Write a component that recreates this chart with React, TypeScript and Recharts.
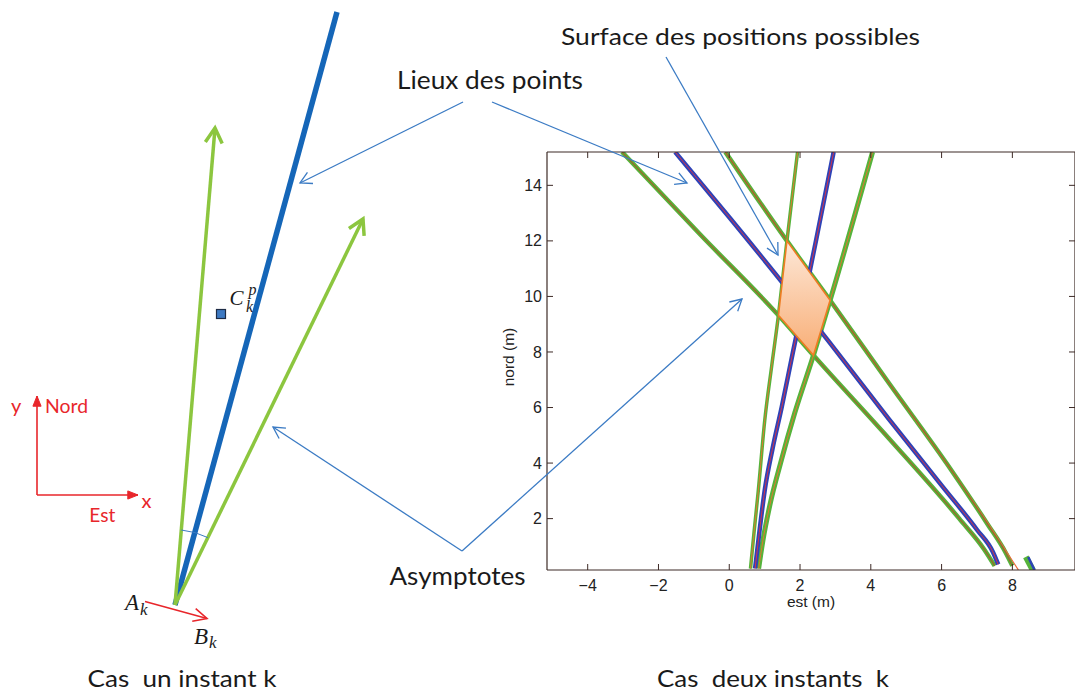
import { ComposedChart, Line, Scatter, XAxis, YAxis } from "recharts";

type Pt = { x: number; y: number };

// ---- right plot (est / nord, metres)
const estTicks = [-4, -2, 0, 2, 4, 6, 8];
const nordTicks = [2, 4, 6, 8, 10, 12, 14];

// locus of points, first instant (descending branch)
const blue1: Pt[] = [
  { x: -1.53, y: 15.2 }, { x: 0, y: 12.85 }, { x: 1.5, y: 10.5 }, { x: 2.8, y: 8.4 },
  { x: 4.5, y: 5.6 }, { x: 6.0, y: 3.2 }, { x: 7.0, y: 1.6 }, { x: 7.45, y: 0.8 }, { x: 7.6, y: 0.35 },
];
// locus of points, second instant (steep branch)
const blue2: Pt[] = [
  { x: 0.73, y: 0.2 }, { x: 0.85, y: 1.5 }, { x: 1.0, y: 3 }, { x: 1.22, y: 4.5 }, { x: 1.48, y: 6 },
  { x: 1.8, y: 8 }, { x: 2.13, y: 10 }, { x: 2.45, y: 12 }, { x: 2.95, y: 15.2 },
];
// asymptote bounds
const greenA: Pt[] = [
  { x: -3.03, y: 15.2 }, { x: -0.8, y: 12.2 }, { x: 1.39, y: 9.32 }, { x: 2.38, y: 7.88 },
  { x: 4.5, y: 4.9 }, { x: 6.5, y: 2.0 }, { x: 7.2, y: 0.9 }, { x: 7.5, y: 0.3 },
];
const greenB: Pt[] = [
  { x: -0.11, y: 15.2 }, { x: 1.63, y: 12.0 }, { x: 2.85, y: 9.86 }, { x: 4.5, y: 6.9 },
  { x: 6.3, y: 3.7 }, { x: 7.3, y: 1.8 }, { x: 7.8, y: 0.8 }, { x: 8.0, y: 0.3 },
];
const redB: Pt[] = [
  { x: -0.11, y: 15.2 }, { x: 1.63, y: 12.0 }, { x: 2.85, y: 9.86 }, { x: 4.5, y: 6.9 },
  { x: 6.3, y: 3.7 }, { x: 7.3, y: 1.85 }, { x: 8.17, y: 0.15 },
];
const greenC: Pt[] = [
  { x: 0.6, y: 0.2 }, { x: 0.7, y: 1.5 }, { x: 0.82, y: 3 }, { x: 1.0, y: 5.5 }, { x: 1.2, y: 7.5 },
  { x: 1.39, y: 9.32 }, { x: 1.63, y: 12.0 }, { x: 1.93, y: 15.2 },
];
const greenD: Pt[] = [
  { x: 0.83, y: 0.2 }, { x: 0.95, y: 1.2 }, { x: 1.15, y: 2.5 }, { x: 1.45, y: 4 }, { x: 1.85, y: 5.8 },
  { x: 2.38, y: 7.88 }, { x: 2.85, y: 9.86 }, { x: 4.05, y: 15.2 },
];
const stubGreen: Pt[] = [{ x: 8.38, y: 0.62 }, { x: 8.58, y: 0.14 }];
const stubBlue: Pt[] = [{ x: 8.45, y: 0.62 }, { x: 8.63, y: 0.14 }];
const diamond: Pt[] = [
  { x: 1.63, y: 12.0 }, { x: 2.85, y: 9.86 }, { x: 2.38, y: 7.88 }, { x: 1.39, y: 9.32 },
];

// ---- left sketch + callouts (page pixels, y down)
const blueLocus: Pt[] = [{ x: 175, y: 605 }, { x: 337, y: 12 }];
const greenLeft: Pt[] = [{ x: 175, y: 605 }, { x: 215, y: 128 }];
const greenRight: Pt[] = [{ x: 175, y: 605 }, { x: 363, y: 219 }];
const angleArc: Pt[] = [{ x: 181.3, y: 530 }, { x: 207.8, y: 537.6 }, { x: 175, y: 605 }];
const abArrow: Pt[] = [{ x: 145, y: 601.5 }, { x: 207, y: 618.5 }];
const nordAxis: Pt[] = [{ x: 37, y: 495 }, { x: 37, y: 396 }];
const estAxis: Pt[] = [{ x: 37, y: 495 }, { x: 138, y: 495 }];
const pointC: Pt[] = [{ x: 221, y: 314 }];
const callouts: Pt[][] = [
  [{ x: 463, y: 102 }, { x: 300, y: 183 }],
  [{ x: 492, y: 102 }, { x: 687, y: 183 }],
  [{ x: 666, y: 57 }, { x: 778, y: 255 }],
  [{ x: 462, y: 551 }, { x: 273, y: 427 }],
  [{ x: 462, y: 551 }, { x: 742, y: 299 }],
];

const FRAME = "#3d2a26";
const SANS = "'Liberation Sans', Arial, Helvetica, sans-serif";
const CAL = "Lato, 'Open Sans', sans-serif";
const MATH = "'Liberation Serif', 'DejaVu Serif', serif";
const RED = "#e8262b";
const CALLOUT = "#3b7bc4";

const fmt = (v: number) => (v < 0 ? "\u2212" + Math.abs(v) : String(v));

function BottomTick(p: any) {
  return (
    <g>
      <line x1={p.x} x2={p.x} y1={p.y} y2={p.y - 6} stroke={FRAME} />
      <text x={p.x} y={p.y + 21} textAnchor="middle" fontSize={16} fontFamily={SANS} fill="#222">
        {fmt(p.payload.value)}
      </text>
    </g>
  );
}
function TopTick(p: any) {
  return <line x1={p.x} x2={p.x} y1={p.y} y2={p.y + 6} stroke={FRAME} />;
}
function LeftTick(p: any) {
  return (
    <g>
      <line x1={p.x} x2={p.x + 6} y1={p.y} y2={p.y} stroke={FRAME} />
      <text x={p.x - 5} y={p.y + 5.6} textAnchor="end" fontSize={16} fontFamily={SANS} fill="#222">
        {fmt(p.payload.value)}
      </text>
    </g>
  );
}
function RightTick(p: any) {
  return <line x1={p.x} x2={p.x - 6} y1={p.y} y2={p.y} stroke={FRAME} />;
}

function headPath(tip: Pt, from: Pt, len: number, ang: number, closed: boolean) {
  const a = Math.atan2(from.y - tip.y, from.x - tip.x);
  const p1 = { x: tip.x + len * Math.cos(a + ang), y: tip.y + len * Math.sin(a + ang) };
  const p2 = { x: tip.x + len * Math.cos(a - ang), y: tip.y + len * Math.sin(a - ang) };
  return `M${p1.x},${p1.y} L${tip.x},${tip.y} L${p2.x},${p2.y}${closed ? " Z" : ""}`;
}

function arrowLine(stroke: string, width: number, head: "none" | "open" | "filled", len = 12, ang = 0.5) {
  return (lp: any) => {
    const pts: Pt[] = lp.points;
    const d = pts.map((q, i) => `${i ? "L" : "M"}${q.x},${q.y}`).join(" ");
    const tip = pts[pts.length - 1];
    const prev = pts[pts.length - 2];
    return (
      <g>
        <path d={d} stroke={stroke} strokeWidth={width} fill="none" />
        {head !== "none" && (
          <path
            d={headPath(tip, prev, len, ang, head === "filled")}
            stroke={stroke}
            strokeWidth={head === "filled" ? 1 : width}
            fill={head === "filled" ? stroke : "none"}
            strokeLinejoin="miter"
          />
        )}
      </g>
    );
  };
}

const noDot = () => <g />;

function seg(key: string, data: Pt[], render: (lp: any) => any) {
  return (
    <Scatter
      key={key}
      data={data}
      dataKey="y"
      line={render}
      lineType="joint"
      shape={noDot}
      isAnimationActive={false}
    />
  );
}

function curve(key: string, data: Pt[], stroke: string, width: number) {
  return (
    <Line
      key={key}
      data={data}
      dataKey="y"
      type="monotone"
      stroke={stroke}
      strokeWidth={width}
      dot={false}
      activeDot={false}
      isAnimationActive={false}
      legendType="none"
    />
  );
}

function renderDiamond(lp: any) {
  const pts: Pt[] = lp.points;
  return (
    <g>
      <defs>
        <linearGradient id="surf" x1="0" y1="0" x2="0" y2="1">
          <stop offset="0%" stopColor="#fde8d8" />
          <stop offset="100%" stopColor="#f8ae76" />
        </linearGradient>
      </defs>
      <polygon
        points={pts.map((q) => `${q.x},${q.y}`).join(" ")}
        fill="url(#surf)"
        stroke="#ee7d23"
        strokeWidth={1.6}
      />
    </g>
  );
}

function renderArc(lp: any) {
  const [s, e, c] = lp.points as Pt[];
  const r = Math.hypot(s.x - c.x, s.y - c.y);
  return <path d={`M${s.x},${s.y} A${r},${r} 0 0 1 ${e.x},${e.y}`} stroke={CALLOUT} strokeWidth={1} fill="none" />;
}

function EstNordChart() {
  return (
    <div style={{ position: "absolute", left: 480, top: 100 }}>
      <ComposedChart width={596} height={520} margin={{ top: 51, right: 0, bottom: 0, left: 0 }}>
        <XAxis
          dataKey="x"
          type="number"
          domain={[-5.15, 9.77]}
          allowDataOverflow
          ticks={estTicks}
          height={50}
          tickSize={0}
          tickMargin={0}
          tickLine={false}
          tick={(p: any) => <BottomTick {...p} />}
          axisLine={{ stroke: FRAME, strokeWidth: 1.2 }}
        />
        <XAxis
          xAxisId="t"
          orientation="top"
          dataKey="x"
          type="number"
          domain={[-5.15, 9.77]}
          allowDataOverflow
          ticks={estTicks}
          height={1}
          tickSize={0}
          tickMargin={0}
          tickLine={false}
          tick={(p: any) => <TopTick {...p} />}
          axisLine={{ stroke: FRAME, strokeWidth: 1.2 }}
        />
        <YAxis
          dataKey="y"
          type="number"
          domain={[0.15, 15.2]}
          allowDataOverflow
          ticks={nordTicks}
          width={67}
          tickSize={0}
          tickMargin={0}
          tickLine={false}
          tick={(p: any) => <LeftTick {...p} />}
          axisLine={{ stroke: FRAME, strokeWidth: 1.2 }}
        />
        <YAxis
          yAxisId="r"
          orientation="right"
          dataKey="y"
          type="number"
          domain={[0.15, 15.2]}
          allowDataOverflow
          ticks={nordTicks}
          width={1}
          tickSize={0}
          tickMargin={0}
          tickLine={false}
          tick={(p: any) => <RightTick {...p} />}
          axisLine={{ stroke: FRAME, strokeWidth: 1.2 }}
        />
        {curve("gA", greenA, "#55b33b", 4.5)}
        {curve("gAo", greenA, "#9a6a2c", 1.3)}
        {curve("gB", greenB, "#55b33b", 4.5)}
        {curve("rB", redB, "#ee6a3a", 1.2)}
        {curve("gBo", greenB, "#9a6a2c", 1.3)}
        {curve("gC", greenC, "#55b33b", 3.5)}
        {curve("gCo", greenC, "#e0782e", 1)}
        {curve("gD", greenD, "#55b33b", 5)}
        {curve("gDo", greenD, "#e0782e", 1)}
        {curve("b1", blue1, "#2d43b8", 4.5)}
        {curve("b1o", blue1, "#d3334a", 1)}
        {curve("b2", blue2, "#2d43b8", 4.5)}
        {curve("b2o", blue2, "#d3334a", 1)}
        {curve("sg", stubGreen, "#55b33b", 6)}
        {curve("sb", stubBlue, "#2d43b8", 2.5)}
        {seg("surf", diamond, renderDiamond)}
      </ComposedChart>
    </div>
  );
}

function SketchChart() {
  return (
    <div style={{ position: "absolute", left: 0, top: 0 }}>
      <ComposedChart width={1075} height={693} margin={{ top: 0, right: 0, bottom: 0, left: 0 }}>
        <XAxis hide dataKey="x" type="number" domain={[0, 1075]} />
        <YAxis hide dataKey="y" type="number" domain={[0, 693]} reversed />
        {seg("blue", blueLocus, arrowLine("#1566b8", 5.5, "none"))}
        {seg("gl", greenLeft, arrowLine("#8cc63f", 3.5, "open", 17, 0.52))}
        {seg("gr", greenRight, arrowLine("#8cc63f", 3.5, "open", 17, 0.52))}
        {seg("arc", angleArc, renderArc)}
        {seg("ab", abArrow, arrowLine(RED, 1.6, "open", 15, 0.45))}
        {seg("nord", nordAxis, arrowLine(RED, 1.6, "filled", 11, 0.38))}
        {seg("est", estAxis, arrowLine(RED, 1.6, "filled", 11, 0.38))}
        <Scatter
          data={pointC}
          dataKey="y"
          isAnimationActive={false}
          shape={(p: any) => (
            <rect x={p.cx - 4.5} y={p.cy - 4.5} width={9} height={9} fill="#3d79c2" stroke="#1d2b45" strokeWidth={1.2} />
          )}
        />
        {callouts.map((c, i) => seg("c" + i, c, arrowLine(CALLOUT, 1.3, "open", 13, 0.5)))}
      </ComposedChart>
    </div>
  );
}

function Labels() {
  const pre = { whiteSpace: "pre" as const };
  return (
    <svg width={1075} height={693} style={{ position: "absolute", left: 0, top: 0 }}>
      <g fontFamily={CAL} fill="#1a1a1a">
        <text x={397} y={89} fontSize={25} textLength={186} lengthAdjust="spacingAndGlyphs">Lieux des points</text>
        <text x={561} y={44.5} fontSize={24} textLength={359} lengthAdjust="spacingAndGlyphs">Surface des positions possibles</text>
        <text x={389.5} y={584.5} fontSize={25} textLength={136} lengthAdjust="spacingAndGlyphs">Asymptotes</text>
        <text x={87.5} y={686.5} fontSize={23} textLength={189} lengthAdjust="spacingAndGlyphs" style={pre}>Cas  un instant k</text>
        <text x={657} y={686.5} fontSize={23} textLength={232} lengthAdjust="spacingAndGlyphs" style={pre}>Cas  deux instants  k</text>
      </g>
      <g fontFamily={CAL} fill={RED}>
        <text x={11} y={412.5} fontSize={20}>y</text>
        <text x={45} y={412.7} fontSize={19} textLength={43} lengthAdjust="spacingAndGlyphs">Nord</text>
        <text x={141.5} y={507.5} fontSize={20}>x</text>
        <text x={89.3} y={521.7} fontSize={19} textLength={26} lengthAdjust="spacingAndGlyphs">Est</text>
      </g>
      <g fontFamily={MATH} fontStyle="italic" fill="#1a1a1a">
        <text x={125} y={610} fontSize={23}>A</text>
        <text x={140} y={614.5} fontSize={17}>k</text>
        <text x={194} y={643.5} fontSize={23}>B</text>
        <text x={209} y={648} fontSize={17}>k</text>
        <text x={229.5} y={305} fontSize={21}>C</text>
        <text x={248.5} y={295} fontSize={16}>p</text>
        <text x={246} y={312} fontSize={16}>k</text>
      </g>
      <g fontFamily={SANS} fill="#222" fontSize={15.5}>
        <text x={811} y={607} textAnchor="middle">est (m)</text>
        <text x={514} y={357} textAnchor="middle" transform="rotate(-90 514 357)">nord (m)</text>
      </g>
    </svg>
  );
}

export default function App() {
  return (
    <div
      style={{
        position: "absolute",
        left: 0,
        top: 0,
        width: 1075,
        height: 693,
        overflow: "hidden",
        background: "#fff",
      }}
    >
      <EstNordChart />
      <SketchChart />
      <Labels />
    </div>
  );
}
